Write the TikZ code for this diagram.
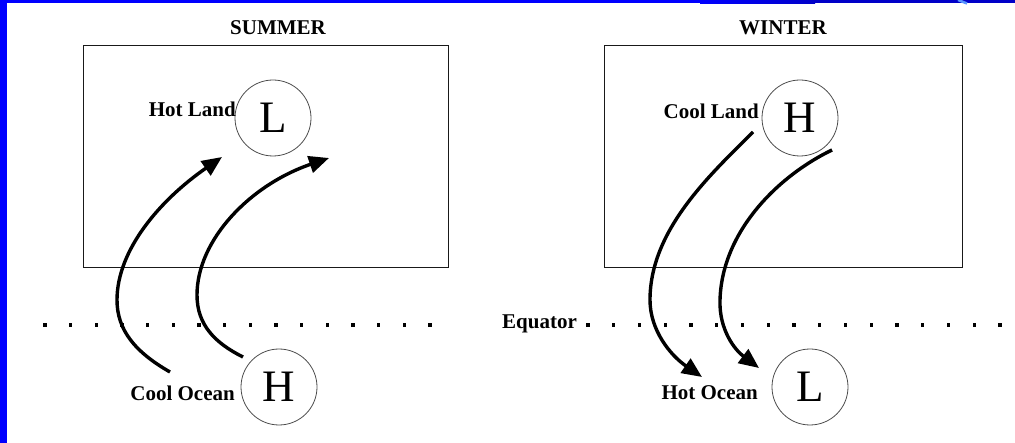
\documentclass[tikz,border=0pt]{standalone}
\usepackage{fontspec}
\setmainfont{Liberation Serif}
\usetikzlibrary{arrows.meta}
\definecolor{frameblue}{RGB}{0,0,255}
\definecolor{darkblue}{RGB}{0,0,200}
\definecolor{streak}{RGB}{90,150,255}
\tikzset{
  lbl/.style={font=\fontsize{21}{24}\selectfont\bfseries, inner sep=0pt},
  press/.style={circle, draw=black!70, line width=0.8pt, minimum size=76pt, inner sep=0pt, font=\fontsize{45}{45}\selectfont},
  region/.style={draw=black!90, line width=0.9pt},
  flow/.style={line width=3.4pt, -{Triangle[length=20pt,width=17pt]}},
  eqdot/.style={fill=black, minimum size=3.2pt, inner sep=0pt, rectangle}
}
\begin{document}
\begin{tikzpicture}[x=1pt,y=-1pt]
\useasboundingbox (0,0) rectangle (1015,443);
% frame
\fill[frameblue] (0,0) rectangle (7.3,443);
\fill[frameblue] (0,0) rectangle (800,3.5);
\shade[left color=frameblue, right color=darkblue] (700,0) rectangle (815,3.5);
\fill[darkblue] (815,0) rectangle (1015,3.5);
\draw[streak, line width=2.5pt] (958,0) -- (967,3.5);
% boxes
\draw[region] (83,45) rectangle (448,267);
\draw[region] (604,45) rectangle (962,267);
\node[lbl] (summer) at (278,28) {SUMMER};
\node[lbl] (winter) at (783,28) {WINTER};
% pressure circles
\node[press] (sL) at (273,118) {L};
\node[press] (sH) at (279,387) {H};
\node[press] (wH) at (800,118) {H};
\node[press] (wL) at (810,387) {L};
% labels
\node[lbl, anchor=east] (hotland) at (236,109) {Hot Land};
\node[lbl, anchor=east] (coolocean) at (235,393) {Cool Ocean};
\node[lbl, anchor=east] (coolland) at (759,111) {Cool Land};
\node[lbl, anchor=east] (hotocean) at (758,393) {Hot Ocean};
% equator
\node[lbl] (equator) at (539.5,324) {Equator};
\foreach \k in {0,...,15} \node[eqdot] at ({45+25.67*\k},325) {};
\foreach \k in {0,...,16} \node[eqdot] at ({588+25.75*\k},325) {};
% flow endpoints
\coordinate (s1a) at (170,372);
\coordinate (s1b) at (222,157);
\coordinate (s2a) at (243,357);
\coordinate (s2b) at (329,158);
\coordinate (w1a) at (753,132);
\coordinate (w1b) at (702,377);
\coordinate (w2a) at (832,150);
\coordinate (w2b) at (759,368);
% summer flows
\draw[flow] (s1a) .. controls (135,352) and (117,330) .. (117,300)
  .. controls (117,250) and (160,200) .. (s1b);
\draw[flow] (s2a) .. controls (215,343) and (197,325) .. (197,295)
  .. controls (197,240) and (250,185) .. (s2b);
% winter flows
\draw[flow] (w1a) .. controls (710,175) and (650,230) .. (650,300)
  .. controls (650,330) and (670,355) .. (w1b);
\draw[flow] (w2a) .. controls (780,175) and (722,230) .. (720,300)
  .. controls (719,330) and (735,350) .. (w2b);
\end{tikzpicture}
\end{document}
